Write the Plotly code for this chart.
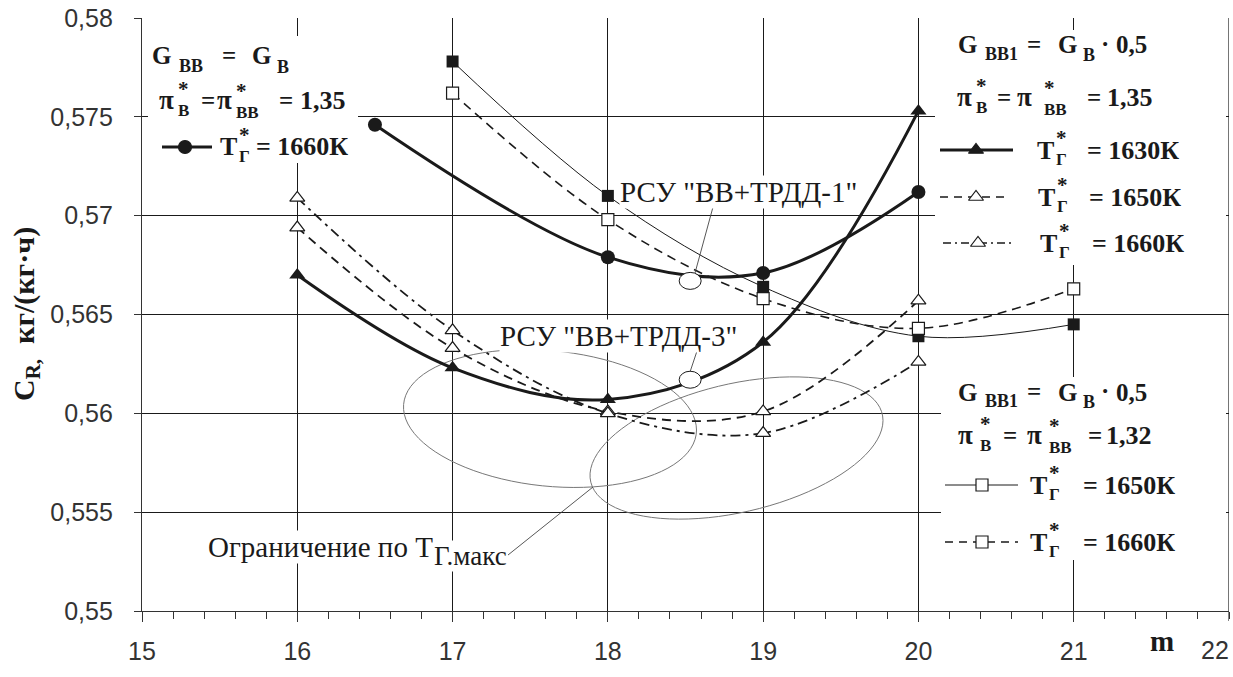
import numpy as np
import plotly.graph_objects as go

# ---------------- data ----------------
m_circ = [16.5, 18, 19, 20]
cr_gvv_135_1660 = [0.5746, 0.5679, 0.5671, 0.5712]          # G_BB = G_B, pi=1,35, T=1660K

m_tri = [16, 17, 18, 19, 20]
cr_135_1630 = [0.5670, 0.5623, 0.5607, 0.5636, 0.5753]      # G_BB1 = 0,5 G_B, pi=1,35, T=1630K
cr_135_1650 = [0.5694, 0.5633, 0.5601, 0.5601, 0.5657]      # T=1650K
cr_135_1660 = [0.5709, 0.5642, 0.5600, 0.5590, 0.5626]      # T=1660K

m_sq = [17, 18, 19, 20, 21]
cr_132_1650 = [0.5778, 0.5710, 0.5664, 0.5639, 0.5645]      # pi=1,32, T=1650K
cr_132_1660 = [0.5762, 0.5698, 0.5658, 0.5643, 0.5663]      # pi=1,32, T=1660K

rsu_labels = ['РСУ "ВВ+ТРДД-1"', 'РСУ "ВВ+ТРДД-3"']
rsu_m = [18.53, 18.53]
rsu_cr = [0.5667, 0.5617]

x_ticks = [15, 16, 17, 18, 19, 20, 21]
x_ticktext = ["15", "16", "17", "18", "19", "20", "21"]
x_last_tick = 22
y_ticks = [0.55, 0.555, 0.56, 0.565, 0.57, 0.575, 0.58]
y_ticktext = ["0,55", "0,555", "0,56", "0,565", "0,57", "0,575", "0,58"]

# ---------------- layout helpers ----------------
W, H = 1233, 677
L, R, T, B = 142, 4, 18, 66
XMIN, XMAX, YMIN, YMAX = 15, 22, 0.55, 0.58
PW, PH = W - L - R, H - T - B
INK = "#1a1a1a"
SERIF = "Liberation Serif, Times New Roman, DejaVu Serif, serif"
SANS = "Liberation Sans, Arial, sans-serif"


def px_x(px):
    return XMIN + (px - L) * (XMAX - XMIN) / PW


def px_y(py):
    return YMAX - (py - T) * (YMAX - YMIN) / PH


def dx(px):
    return px * (XMAX - XMIN) / PW


def dy(py):
    return py * (YMAX - YMIN) / PH


def pap_x(px):
    return (px - L) / PW


def pap_y(py):
    return (H - B - py) / PH


fig = go.Figure()

# ---------------- data traces ----------------
fig.add_trace(go.Scatter(x=m_circ, y=cr_gvv_135_1660, mode="lines+markers",
                         line=dict(color=INK, width=3, shape="spline"),
                         marker=dict(symbol="circle", size=14, color=INK)))
fig.add_trace(go.Scatter(x=m_tri, y=cr_135_1630, mode="lines+markers",
                         line=dict(color=INK, width=3, shape="spline"),
                         marker=dict(symbol="triangle-up", size=14, color=INK)))
fig.add_trace(go.Scatter(x=m_tri, y=cr_135_1650, mode="lines+markers",
                         line=dict(color=INK, width=1.8, shape="spline", dash="9px,6px"),
                         marker=dict(symbol="triangle-up", size=13, color="white",
                                     line=dict(color=INK, width=1.2))))
fig.add_trace(go.Scatter(x=m_tri, y=cr_135_1660, mode="lines+markers",
                         line=dict(color=INK, width=1.8, shape="spline", dash="10px,5px,3px,5px"),
                         marker=dict(symbol="triangle-up", size=13, color="white",
                                     line=dict(color=INK, width=1.2))))
fig.add_trace(go.Scatter(x=m_sq, y=cr_132_1650, mode="lines+markers",
                         line=dict(color=INK, width=1, shape="spline"),
                         marker=dict(symbol="square", size=12, color=INK)))
fig.add_trace(go.Scatter(x=m_sq, y=cr_132_1660, mode="lines+markers",
                         line=dict(color=INK, width=1.6, shape="spline", dash="9px,6px"),
                         marker=dict(symbol="square", size=12, color="white",
                                     line=dict(color=INK, width=1.2))))

shapes = []
annotations = []

# ---------------- constraint ellipses ----------------
def ellipse_path(cxp, cyp, apx, bpx, shear_px, n=90):
    t = np.linspace(0, 2 * np.pi, n)
    xs = px_x(cxp) + dx(apx) * np.cos(t)
    ys = px_y(cyp) + dy(bpx) * np.sin(t) - dy(shear_px) * np.cos(t)
    return "M " + " L ".join(f"{a:.5f},{b:.6f}" for a, b in zip(xs, ys)) + " Z"


for (cxp, cyp, apx, bpx, sh) in [(550, 418.5, 146.5, 68, 11.5), (736.5, 448, 146.5, 65.6, -27.5)]:
    shapes.append(dict(type="path", path=ellipse_path(cxp, cyp, apx, bpx, sh), xref="x", yref="y",
                       line=dict(color="#777777", width=1), layer="between"))

# RSU markers (small open ellipses)
for mx, cy in zip(rsu_m, rsu_cr):
    shapes.append(dict(type="circle", xref="x", yref="y", x0=mx - dx(11), x1=mx + dx(11),
                       y0=cy - dy(8.5), y1=cy + dy(8.5), fillcolor="white",
                       line=dict(color=INK, width=1), layer="above"))

# leader lines
for (x0, y0, x1, y1) in [(695, 273, 713, 207), (697, 351, 690, 372), (508, 555, 593, 487)]:
    shapes.append(dict(type="line", xref="x", yref="y", x0=px_x(x0), y0=px_y(y0),
                       x1=px_x(x1), y1=px_y(y1), line=dict(color="#444444", width=0.9), layer="above"))

# right border (x = 22) and its tick below the axis
shapes.append(dict(type="line", xref="x", yref="paper", x0=x_last_tick, x1=x_last_tick, y0=0, y1=1,
                   line=dict(color=INK, width=1.2), layer="between"))
shapes.append(dict(type="line", xref="x", yref="paper", x0=x_last_tick, x1=x_last_tick,
                   y0=0, y1=-10 / PH, line=dict(color="#333", width=1.2)))

# white boxes behind the legend blocks
for (x0, y0, x1, y1) in [(148, 36, 358, 163), (935, 30, 1226, 265), (941, 377, 1226, 560)]:
    shapes.append(dict(type="rect", xref="x", yref="y", x0=px_x(x0), x1=px_x(x1),
                       y0=px_y(y1), y1=px_y(y0), fillcolor="white", line=dict(width=0),
                       layer="between"))


def txt(px, py, s, size=26, bold=True, anchor="left", family=SERIF, bg=None):
    d = dict(x=pap_x(px), y=pap_y(py), xref="paper", yref="paper", text=f"<b>{s}</b>" if bold else s,
             showarrow=False, xanchor=anchor, yanchor="middle", borderpad=0,
             font=dict(family=family, size=size, color=INK))
    if bg:
        d.update(bgcolor=bg)
    annotations.append(d)


def stack(px, py, top, bottom, ts=21, bs=17, base=15.2):
    """superscript stacked above a subscript, as a single text"""
    annotations.append(dict(
        x=pap_x(px), y=pap_y(py), xref="paper", yref="paper", showarrow=False,
        xanchor="left", yanchor="middle", align="left", borderpad=0,
        text=(f"<b><span style='font-size:{ts}px'>{top}</span><br>"
              f"<span style='font-size:{bs}px'>{bottom}</span></b>"),
        font=dict(family=SERIF, size=base, color=INK)))


def g_row(y, sub1, tail):
    txt(957, y, "G", 25)
    txt(984, y + 9, sub1, 18)
    txt(1026, y - 1, "=", 25)
    txt(1057, y, "G", 25)
    txt(1082, y + 10, "B", 18)
    txt(1100, y - 2, "·", 25)
    txt(1115, y, tail, 25)


def pi_row(xs, y, val):
    # xs: pi1, stack1, =, pi2, stack2, =, value
    txt(xs[0], y, "π", 27)
    stack(xs[1], y - 1.3, "*", "B")
    txt(xs[2], y, "=", 25)
    txt(xs[3], y, "π", 27)
    stack(xs[4], y + 0.3, "*", "BB")
    txt(xs[5], y, "=", 25)
    txt(xs[6], y, val, 26)


def t_row(xt, xeq, y, val):
    txt(xt, y, "T", 26)
    stack(xt + 19, y - 2.7, "*", "Г")
    txt(xeq, y, "= " + val, 26)


def sample(x0, x1, y, xm, symbol, filled, width, dash):
    fig.add_trace(go.Scatter(x=[px_x(x0), px_x(x1)], y=[px_y(y), px_y(y)], mode="lines",
                             line=dict(color=INK, width=width, dash=dash), hoverinfo="skip"))
    fig.add_trace(go.Scatter(x=[px_x(xm)], y=[px_y(y)], mode="markers", hoverinfo="skip",
                             marker=dict(symbol=symbol, size=13 if symbol != "square" else 12,
                                         color=INK if filled else "white",
                                         line=dict(color=INK, width=1.2))))


# ---- top-left block ----
txt(151, 56, "G", 25)
txt(178, 66, "BB", 18)
txt(221, 55, "=", 25)
txt(251, 56, "G", 25)
txt(276, 67, "B", 18)
pi_row([158, 177, 200, 216, 235, 278, 299], 100, "1,35")
sample(162, 212, 147, 185, "circle", True, 3, "solid")
t_row(219, 255, 147, "1660К")

# ---- top-right block ----
g_row(45, "BB1", "0,5")
pi_row([956, 975, 996, 1016, 1043, 1086, 1106], 97, "1,35")
sample(940, 1013, 150, 976, "triangle-up", True, 3, "solid")
sample(940, 1010, 197, 976, "triangle-up", False, 1.5, "8px,6px")
sample(943, 1012, 243, 978, "triangle-up", False, 1.5, "8px,4px,2px,4px")
t_row(1036, 1086, 150, "1630К")
t_row(1037, 1088, 197, "1650К")
t_row(1039, 1091, 243, "1660К")

# ---- bottom-right block ----
g_row(392, "BB1", "0,5")
pi_row([957, 979, 1002, 1026, 1048, 1087, 1105], 435, "1,32")
sample(945, 1018, 485, 982, "square", False, 1, "solid")
sample(945, 1018, 542, 982, "square", False, 1.5, "8px,6px")
t_row(1029, 1082, 485, "1650К")
t_row(1029, 1082, 542, "1660К")

# ---- callouts ----
txt(619, 192, rsu_labels[0], 29, bold=False, bg="white")
txt(499, 336, rsu_labels[1], 29, bold=False, bg="white")
txt(207, 547, "Ограничение по Т", 29, bold=False, bg="white")
txt(433, 556, "Г.макс", 27, bold=False, bg="white")

# ---- axis titles / last tick label ----
annotations.append(dict(x=pap_x(1231), y=pap_y(650), xref="paper", yref="paper", text=str(x_last_tick),
                        showarrow=False, xanchor="right", yanchor="middle",
                        font=dict(family=SANS, size=25, color="#333")))
txt(1162, 641, "m", 29, anchor="center")
annotations.append(dict(x=pap_x(26), y=pap_y(314), xref="paper", yref="paper",
                        text="<b>C<sub>R,</sub>  кг/(кг·ч)</b>", textangle=-90, showarrow=False,
                        xanchor="center", yanchor="middle",
                        font=dict(family=SERIF, size=30, color=INK)))

fig.update_layout(
    width=W, height=H, autosize=False,
    margin=dict(l=L, r=R, t=T, b=B, pad=0),
    paper_bgcolor="white", plot_bgcolor="white",
    showlegend=False,
    shapes=shapes, annotations=annotations,
    xaxis=dict(range=[XMIN, XMAX], tickvals=x_ticks, ticktext=x_ticktext,
               showgrid=True, gridcolor=INK, gridwidth=1,
               showline=True, linecolor="#333", linewidth=1.3,
               ticks="outside", ticklen=10, tickcolor="#333", tickwidth=1.2,
               ticklabelstandoff=8,
               minor=dict(dtick=0.2, ticks="outside", ticklen=7, tickcolor="#333", showgrid=False),
               tickfont=dict(family=SANS, size=25, color="#333"), zeroline=False),
    yaxis=dict(range=[YMIN, YMAX], tickvals=y_ticks, ticktext=y_ticktext,
               showgrid=True, gridcolor=INK, gridwidth=1,
               showline=True, linecolor="#333", linewidth=1.3,
               ticks="outside", ticklen=7, tickcolor="#333", tickwidth=1.2,
               ticklabelstandoff=16,
               tickfont=dict(family=SANS, size=25, color="#333"), zeroline=False),
)

fig.write_html("out.html", config={"displayModeBar": False},
               post_script="document.body.style.margin='0';")
